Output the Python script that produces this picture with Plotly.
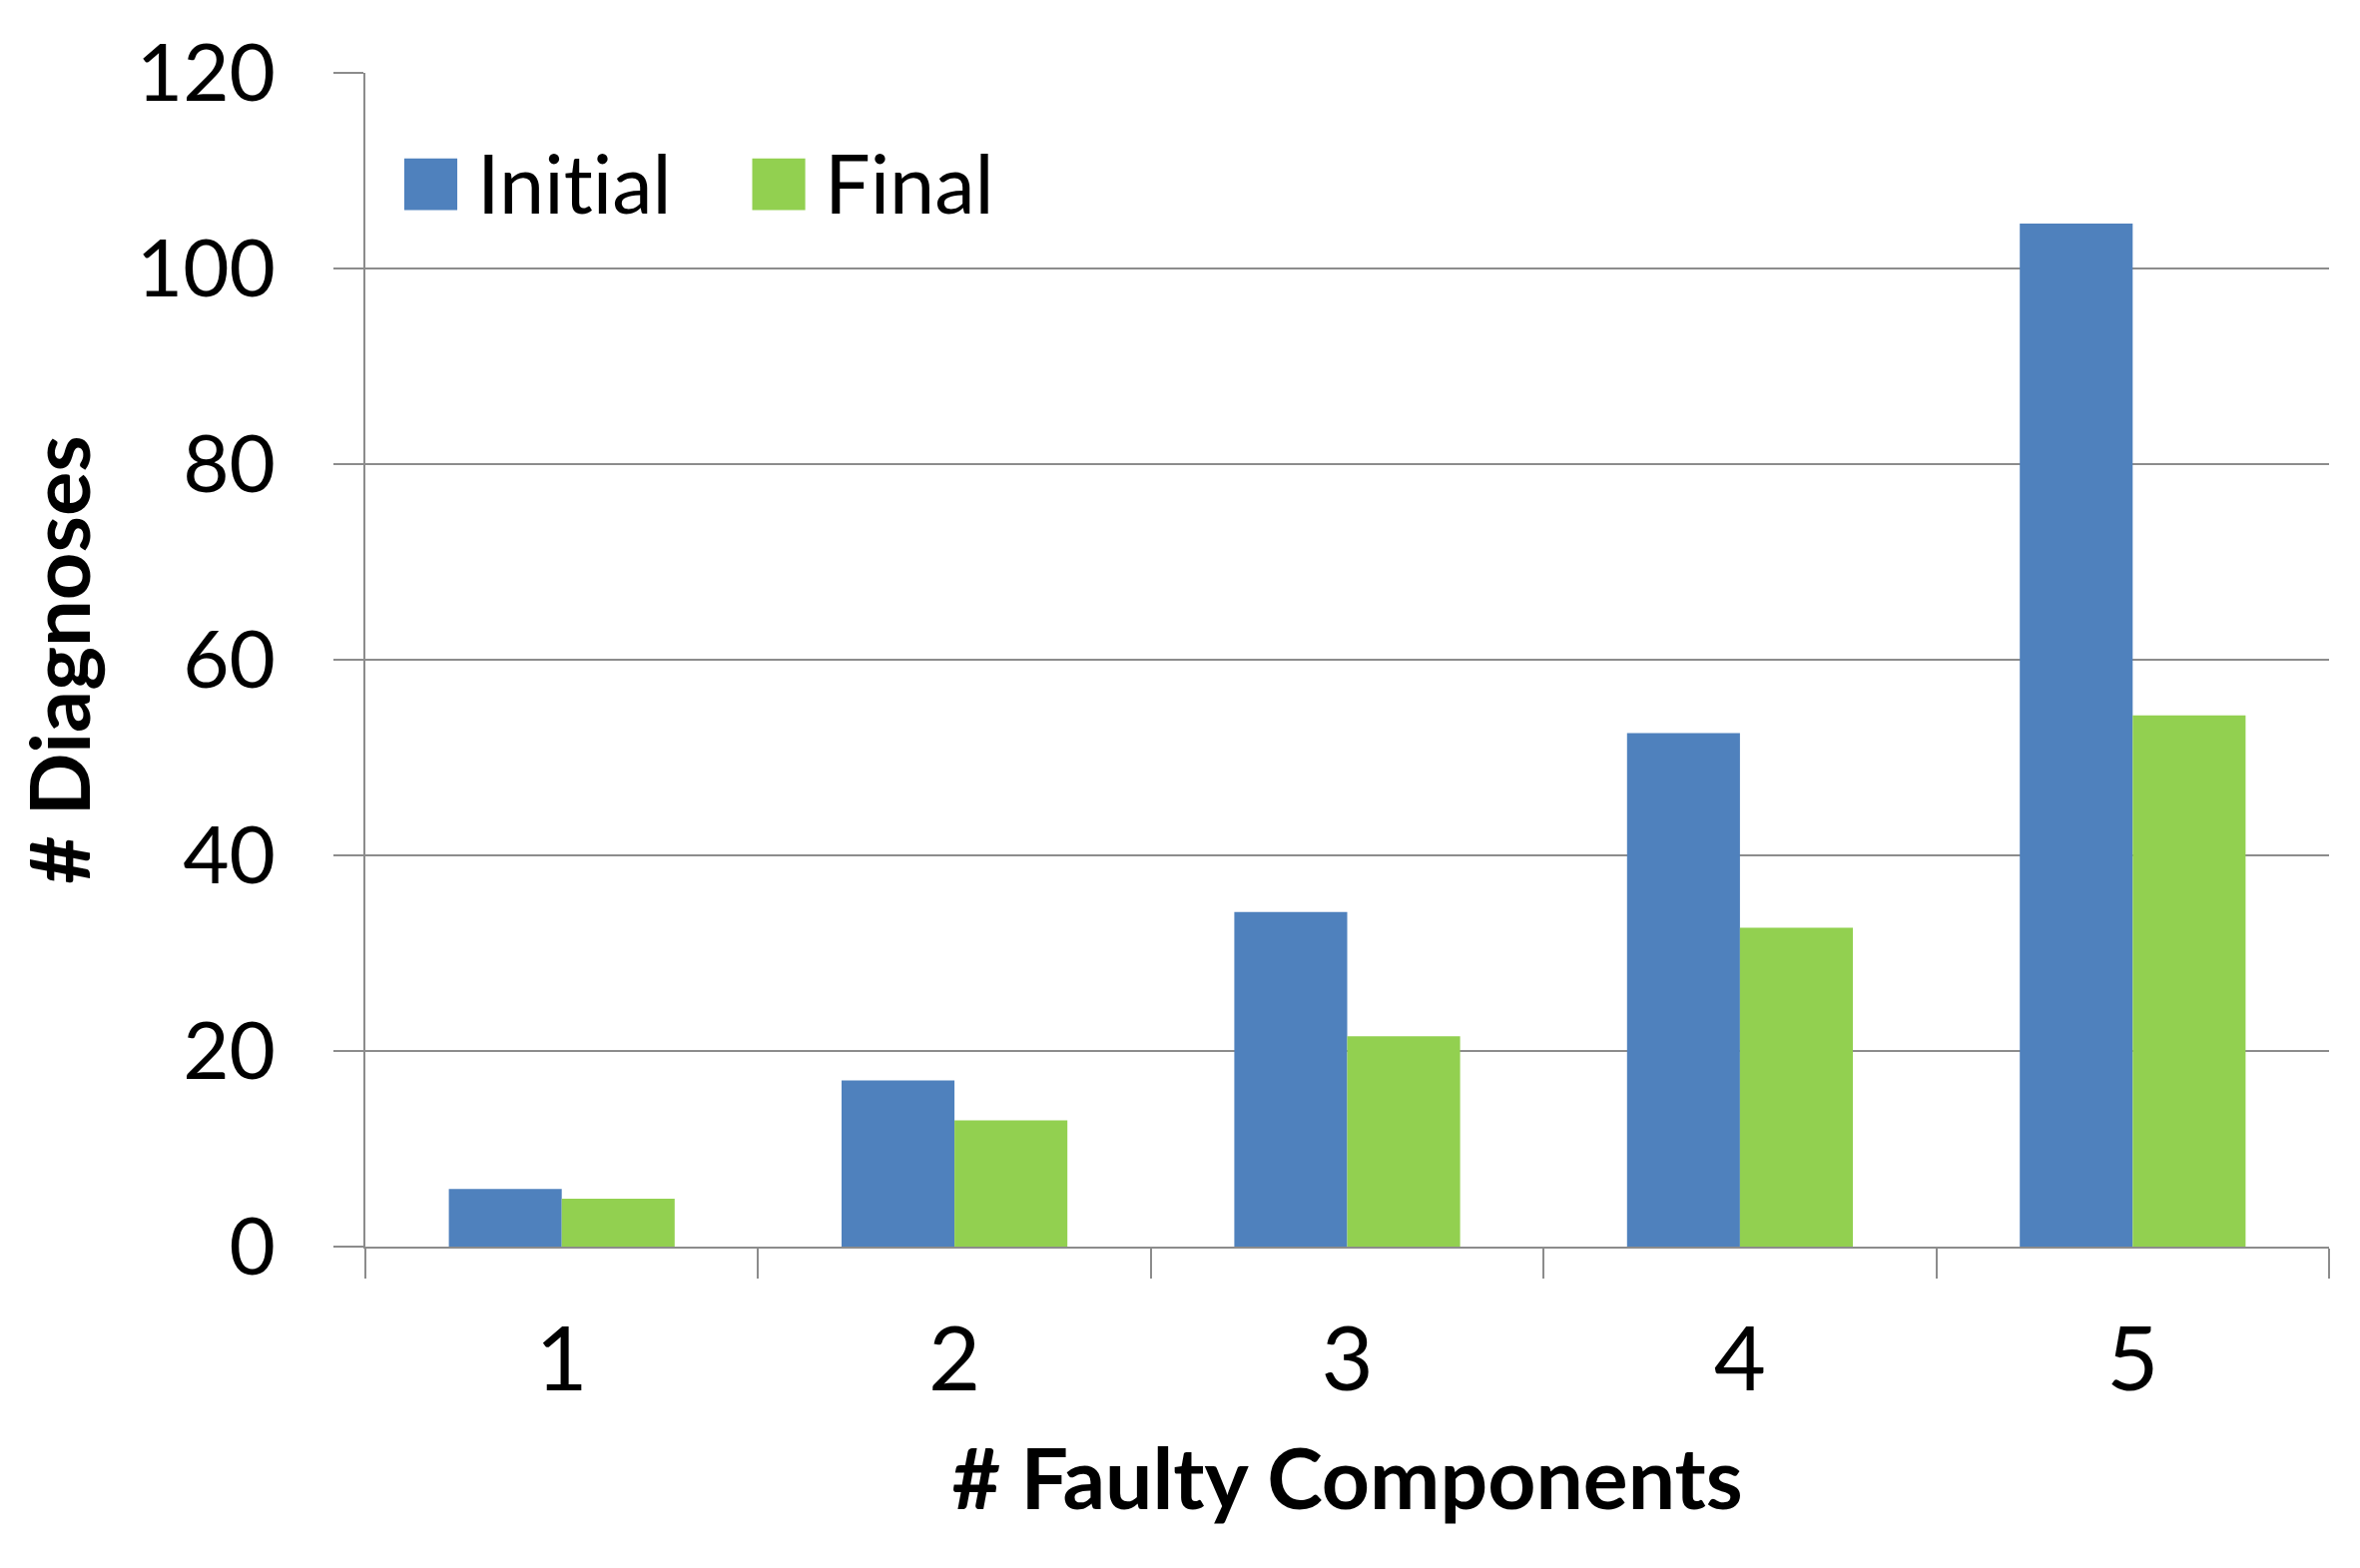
import plotly.graph_objects as go

categories = ["1", "2", "3", "4", "5"]
initial = [5.9, 17.0, 34.2, 52.5, 104.6]
final = [4.9, 12.9, 21.5, 32.6, 54.3]
y_ticks = [0, 20, 40, 60, 80, 100, 120]

BLUE = "#4F81BD"
GREEN = "#92D050"
GRID = "#8C8C8C"
FONT = "Lato"

fig = go.Figure()
fig.add_trace(go.Bar(x=categories, y=initial, name="Initial", marker_color=BLUE,
                     marker_line_width=0, showlegend=False))
fig.add_trace(go.Bar(x=categories, y=final, name="Final", marker_color=GREEN,
                     marker_line_width=0, showlegend=False))

# legende dessinee a la main (carres plus grands que ceux de plotly)
# \u200c evite la ligature "ti" de Lato
legend_items = [("Init\u200cial", BLUE, 0.0198), ("Final", GREEN, 0.197)]
for label, color, x0 in legend_items:
    fig.add_shape(type="rect", xref="paper", yref="paper",
                  x0=x0, x1=x0 + 0.027, y0=0.883, y1=0.927,
                  fillcolor=color, line_width=0)
    fig.add_annotation(text=label, xref="paper", yref="paper",
                       x=x0 + 0.036, y=0.907, xanchor="left", yanchor="middle",
                       showarrow=False, font=dict(family=FONT, size=81, color="black"))

fig.update_layout(
    width=2364, height=1571,
    margin=dict(l=358, r=39, t=65, b=330),
    paper_bgcolor="white", plot_bgcolor="white",
    barmode="group", bargap=0.425, bargroupgap=0,
    font=dict(family=FONT, color="black"),
)
fig.update_xaxes(
    type="category", tickson="boundaries", ticks="outside", ticklen=30,
    tickwidth=2, tickcolor=GRID, showline=True, linecolor=GRID, linewidth=2,
    showgrid=False, tickfont=dict(size=90), ticklabelstandoff=34,
    title=dict(text="<b># Faulty Components</b>", font=dict(size=84), standoff=42),
)
fig.update_yaxes(
    range=[0, 120], tickvals=y_ticks, ticks="outside", ticklen=30, tickwidth=2,
    tickcolor=GRID, showline=True, linecolor=GRID, linewidth=2,
    showgrid=True, gridcolor=GRID, gridwidth=2, zeroline=False,
    tickfont=dict(size=80), ticklabelstandoff=42,
    title=dict(text="<b># Diagnoses</b>", font=dict(size=83), standoff=30),
)

fig.write_html("out.html")
